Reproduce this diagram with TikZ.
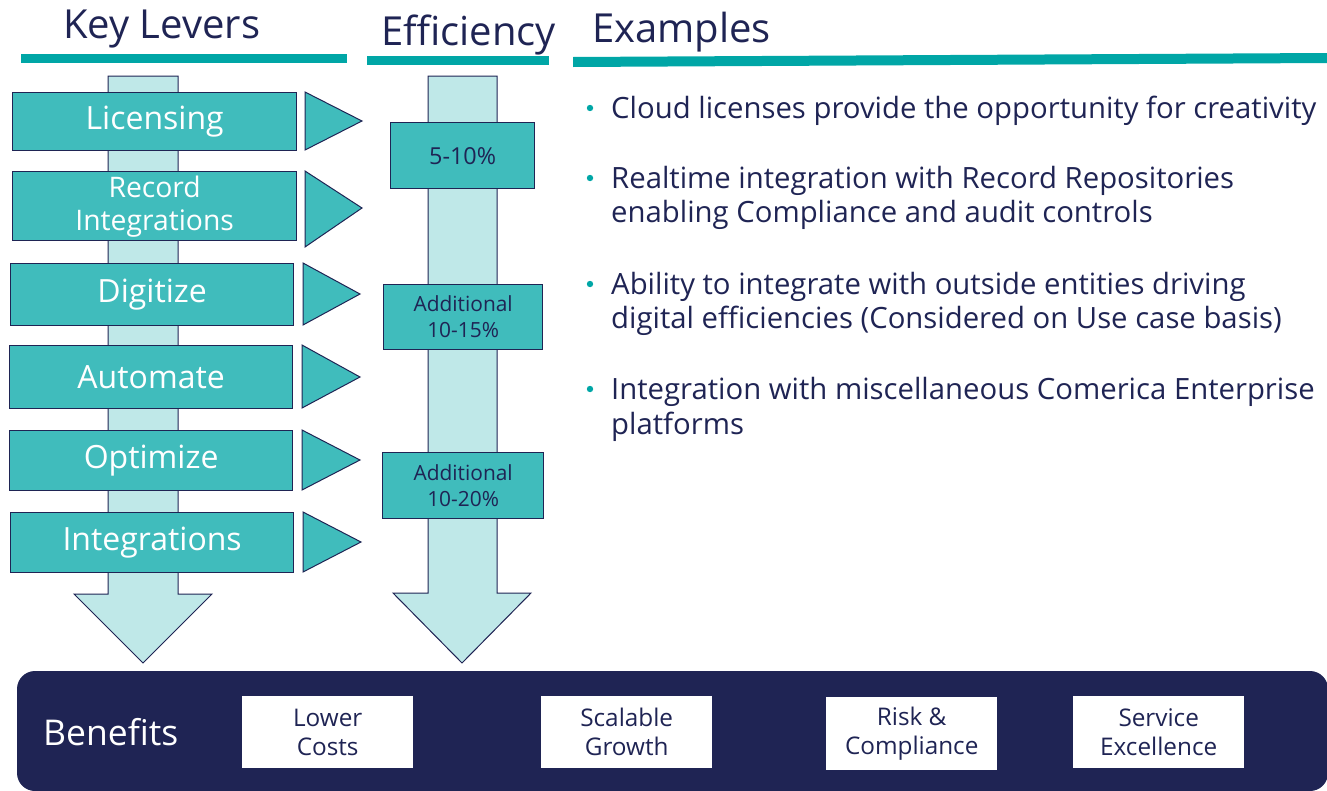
\documentclass[tikz,border=0pt]{standalone}
\usepackage{fontspec}
\setmainfont{Open Sans}
\definecolor{navy}{HTML}{1F2454}
\definecolor{tealbar}{HTML}{00A6A6}
\definecolor{lever}{HTML}{40BCBC}
\definecolor{shaft}{HTML}{BFE8E8}
\begin{document}
\begin{tikzpicture}[x=1pt,y=-1pt,
  hdr/.style={text=navy,font=\fontsize{40}{48}\selectfont,anchor=base west,inner sep=0pt},
  leverbox/.style={draw=navy,line width=1.3pt,fill=lever,anchor=north west,inner sep=0pt,text=white,align=center},
  effbox/.style={draw=navy,line width=1.3pt,fill=lever,anchor=north west,inner sep=0pt,text=navy,align=center},
  benbox/.style={fill=white,anchor=north west,inner sep=0pt,text=navy,align=center,font=\fontsize{24.3}{29}\selectfont},
  exline/.style={text=navy,font=\fontsize{29.3}{34}\selectfont,anchor=base west,inner sep=0pt},
  tri/.style={draw=navy,line width=1pt,fill=lever,line join=miter},
  downarrow/.style={draw=navy,line width=1pt,fill=shaft}
]
\useasboundingbox (0,0) rectangle (1327,790);
% headers
\node[hdr] (hkl) at (63,38) {Key Levers};
\node[hdr] (heff) at (381,45) {Efficiency};
\node[hdr] (hex) at (592,42) {Examples};
\fill[tealbar] (21,54) rectangle (347,63);
\fill[tealbar] (367,56) rectangle (549,65);
\fill[tealbar] (573,57) -- (1327,53) -- (1327,63) -- (573,67) -- cycle;
% vertical arrows
\path[downarrow] (108,76) -- (178,76) -- (178,594) -- (212,594) -- (143,663) -- (74,594) -- (108,594) -- cycle;
\path[downarrow] (428,76) -- (497,76) -- (497,593) -- (531,593) -- (462,663) -- (393,593) -- (428,593) -- cycle;
% lever boxes
\node[leverbox,minimum width=284pt,minimum height=58pt,font=\fontsize{32}{34}\selectfont] (l1) at (12,92) {Licensing};
\node[leverbox,minimum width=284pt,minimum height=69pt,font=\fontsize{28.3}{33}\selectfont] (l2) at (12,171) {Record\\Integrations};
\node[leverbox,minimum width=283pt,minimum height=62pt,font=\fontsize{32}{34}\selectfont] (l3) at (10,263) {Digitize};
\node[leverbox,minimum width=283pt,minimum height=63pt,font=\fontsize{32}{34}\selectfont] (l4) at (9,345) {Automate};
\node[leverbox,minimum width=283pt,minimum height=60pt,font=\fontsize{32}{34}\selectfont] (l5) at (9,430) {Optimize};
\node[leverbox,minimum width=283pt,minimum height=60pt,font=\fontsize{32}{34}\selectfont] (l6) at (10,512) {Integrations};
% triangles
\path[tri] (305,92) -- (362,121) -- (305,150) -- cycle;
\path[tri] (305,171) -- (362,208) -- (305,247) -- cycle;
\path[tri] (303,263) -- (360,294) -- (303,325) -- cycle;
\path[tri] (302,345) -- (360,377) -- (302,408) -- cycle;
\path[tri] (302,430) -- (360,460) -- (302,490) -- cycle;
\path[tri] (303,512) -- (361,542) -- (303,572) -- cycle;
% efficiency boxes
\node[effbox,minimum width=144pt,minimum height=66pt,font=\fontsize{23.4}{26}\selectfont] (e1) at (390,122) {5-10\%};
\node[effbox,minimum width=159pt,minimum height=65pt,font=\fontsize{20.9}{26}\selectfont] (e2) at (383,284) {Additional\\10-15\%};
\node[effbox,minimum width=161pt,minimum height=66pt,font=\fontsize{20.9}{26}\selectfont] (e3) at (382,452) {Additional\\10-20\%};
% examples
\foreach \y in {108,178,284,389} {\fill[tealbar] (590,\y) circle (3.2pt);}
\node[exline] (x1) at (611,118) {Cloud licenses provide the opportunity for creativity};
\node[exline] (x2a) at (611,188) {Realtime integration with Record Repositories};
\node[exline] (x2b) at (611,222) {enabling Compliance and audit controls};
\node[exline] (x3a) at (611,294) {Ability to integrate with outside entities driving};
\node[exline] (x3b) at (611,328) {digital efficiencies (Considered on Use case basis)};
\node[exline] (x4a) at (611,399) {Integration with miscellaneous Comerica Enterprise};
\node[exline] (x4b) at (611,434) {platforms};
% benefits bar
\fill[navy,rounded corners=18pt] (17,671) rectangle (1328,791);
\node[text=white,font=\fontsize{35.5}{40}\selectfont,anchor=base west,inner sep=0pt] (ben) at (43,745) {Benefits};
\node[benbox,minimum width=171pt,minimum height=72pt] (b1) at (242,696) {Lower\\Costs};
\node[benbox,minimum width=171pt,minimum height=72pt] (b2) at (541,696) {Scalable\\Growth};
\node[benbox,minimum width=171pt,minimum height=73pt] (b3) at (826,697) {Risk \&\\Compliance};
\node[benbox,minimum width=171pt,minimum height=72pt] (b4) at (1073,696) {Service\\Excellence};
\end{tikzpicture}
\end{document}
